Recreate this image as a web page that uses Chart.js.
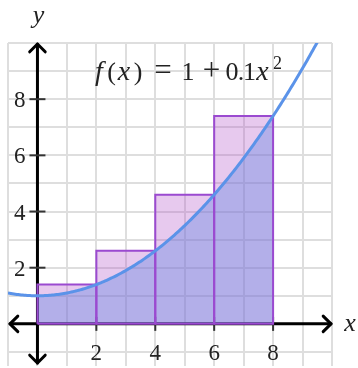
<!DOCTYPE html>
<html>
<head>
<meta charset="utf-8">
<script src="https://cdn.jsdelivr.net/npm/chart.js@4/dist/chart.umd.min.js"></script>
<style>
  html, body { margin: 0; padding: 0; background: #ffffff; }
  #wrap { width: 358px; height: 368px; }
</style>
</head>
<body>
<div id="wrap"><canvas id="c" width="358" height="368"></canvas></div>
<script>
// f(x) = 1 + 0.1 x^2, with a right-endpoint Riemann sum on [0, 8]
const coefConst = 1;
const coefSquare = 0.1;
const leftEdges = [0, 2, 4, 6];
const rightEdges = [2, 4, 6, 8];
const rectHeights = [1.4, 2.6, 4.6, 7.4];
const xTickValues = [2, 4, 6, 8];
const xTickLabels = ['2', '4', '6', '8'];
const yTickValues = [2, 4, 6, 8];
const yTickLabels = ['2', '4', '6', '8'];
const xRange = [-1, 10];
const yRange = [-1.5, 10];
const areaFrom = 0, areaTo = 8;

const f = (x) => coefConst + coefSquare * x * x;

// curve samples of the stated function
const curvePts = [];
for (let i = 0; i <= 220; i++) {
  const x = xRange[0] + i * (xRange[1] - xRange[0]) / 220;
  curvePts.push({ x, y: f(x) });
}
const areaPts = [];
for (let i = 0; i <= 160; i++) {
  const x = areaFrom + i * (areaTo - areaFrom) / 160;
  areaPts.push({ x, y: f(x) });
}

const rectFill = 'rgba(175, 75, 200, 0.30)';
const rectEdge = '#9b4ad0';
const areaFill = 'rgba(90, 130, 225, 0.36)';
const curveColor = '#5b93e9';

const datasets = [];
// curve on top
datasets.push({
  data: curvePts, borderColor: curveColor, borderWidth: 3,
  pointRadius: 0, fill: false, tension: 0, order: 0
});
// rectangle outlines
leftEdges.forEach((a, i) => {
  const b = rightEdges[i], h = rectHeights[i];
  datasets.push({
    data: [{x: a, y: 0}, {x: a, y: h}, {x: b, y: h}, {x: b, y: 0}, {x: a, y: 0}],
    borderColor: rectEdge, borderWidth: 2, pointRadius: 0, fill: false, order: 1
  });
});
// area under the curve
datasets.push({
  data: areaPts, borderWidth: 0, borderColor: 'rgba(0,0,0,0)',
  backgroundColor: areaFill, pointRadius: 0, fill: 'origin', order: 2
});
// rectangle fills
leftEdges.forEach((a, i) => {
  const b = rightEdges[i], h = rectHeights[i];
  datasets.push({
    data: [{x: a, y: 0}, {x: a, y: h}, {x: b, y: h}, {x: b, y: 0}],
    borderWidth: 0, borderColor: 'rgba(0,0,0,0)',
    backgroundColor: rectFill, pointRadius: 0, fill: 'origin', order: 3
  });
});

const gridColor = (ctx) => Number.isInteger(ctx.tick.value) ? '#dedede' : 'rgba(0,0,0,0)';

function arrowHead(ctx, tx, ty, dx, dy, len, spread) {
  const ang = Math.atan2(dy, dx);
  ctx.beginPath();
  ctx.moveTo(tx - len * Math.cos(ang - spread), ty - len * Math.sin(ang - spread));
  ctx.lineTo(tx, ty);
  ctx.lineTo(tx - len * Math.cos(ang + spread), ty - len * Math.sin(ang + spread));
  ctx.stroke();
}

const axesPlugin = {
  id: 'axesWithArrows',
  beforeDatasetsDraw(chart) {
    const { ctx, chartArea: a, scales: { x, y } } = chart;
    const x0 = x.getPixelForValue(0), y0 = y.getPixelForValue(0);
    ctx.save();
    ctx.strokeStyle = '#000';
    ctx.lineWidth = 3;
    ctx.lineCap = 'round';
    ctx.lineJoin = 'round';
    const xl = a.left + 2, xr = a.right - 1;
    const yt = a.top + 1, yb = a.bottom - 3;
    ctx.beginPath(); ctx.moveTo(xl, y0); ctx.lineTo(xr, y0); ctx.stroke();
    ctx.beginPath(); ctx.moveTo(x0, yt); ctx.lineTo(x0, yb); ctx.stroke();
    arrowHead(ctx, xl, y0, -1, 0, 11, 0.78);
    arrowHead(ctx, xr, y0, 1, 0, 11, 0.78);
    arrowHead(ctx, x0, yt, 0, -1, 11, 0.78);
    arrowHead(ctx, x0, yb, 0, 1, 11, 0.78);
    // tick marks
    ctx.strokeStyle = '#333';
    ctx.lineWidth = 2;
    ctx.lineCap = 'butt';
    xTickValues.forEach(v => {
      const px = x.getPixelForValue(v);
      ctx.beginPath(); ctx.moveTo(px, y0 - 7); ctx.lineTo(px, y0 + 7); ctx.stroke();
    });
    yTickValues.forEach(v => {
      const py = y.getPixelForValue(v);
      ctx.beginPath(); ctx.moveTo(x0 - 8, py); ctx.lineTo(x0 + 8, py); ctx.stroke();
    });
    ctx.restore();
  },
  afterDatasetsDraw(chart) {
    const { ctx, scales: { x, y } } = chart;
    const x0 = x.getPixelForValue(0), y0 = y.getPixelForValue(0);
    ctx.save();
    ctx.fillStyle = '#222';
    ctx.font = '23px "Liberation Serif", serif';
    ctx.textAlign = 'center';
    ctx.textBaseline = 'alphabetic';
    xTickValues.forEach((v, i) => {
      ctx.fillText(xTickLabels[i], x.getPixelForValue(v), y0 + 36);
    });
    ctx.textAlign = 'right';
    yTickValues.forEach((v, i) => {
      ctx.fillText(yTickLabels[i], x0 - 12, y.getPixelForValue(v) + 8);
    });
    // axis names
    ctx.font = 'italic 26px "Liberation Serif", serif';
    ctx.textAlign = 'center';
    ctx.fillText('y', x0 + 1, 23);
    ctx.fillText('x', 350, y0 + 7);

    // formula label, set glyph by glyph
    const base = 80;
    const it = 'italic 28px "Liberation Serif", serif';
    const rm = '26px "Liberation Serif", serif';
    const op = '31px "Liberation Serif", serif';
    const parts = [
      ['f', it, 99, base], ['(', rm, 111.5, base], ['x', it, 124, base],
      [')', rm, 138, base], ['=', op, 163, base], ['1', rm, 188, base],
      ['+', op, 211.5, base], ['0', rm, 232, base], ['.', rm, 241, base],
      ['1', rm, 249.5, base], ['x', it, 262.5, base],
      ['2', '18px "Liberation Serif", serif', 277.5, base - 11]
    ];
    parts.forEach(([t, font, cx, by]) => {
      ctx.font = font;
      ctx.fillText(t, cx, by);
    });
    ctx.restore();
  }
};

new Chart(document.getElementById('c'), {
  type: 'line',
  data: { datasets },
  options: {
    responsive: false,
    animation: false,
    devicePixelRatio: 1,
    layout: { padding: { left: 8, right: 26, top: 43, bottom: 2 } },
    plugins: { legend: { display: false }, tooltip: { enabled: false }, title: { display: false } },
    elements: { line: { tension: 0 } },
    scales: {
      x: {
        type: 'linear', min: xRange[0], max: xRange[1],
        ticks: { display: false, stepSize: 1 },
        grid: { color: gridColor, lineWidth: 2, drawTicks: false },
        border: { display: false },
        afterFit: (s) => { s.height = 0; }
      },
      y: {
        type: 'linear', min: yRange[0], max: yRange[1],
        ticks: { display: false, stepSize: 1 },
        grid: { color: gridColor, lineWidth: 2, drawTicks: false },
        border: { display: false },
        afterFit: (s) => { s.width = 0; }
      }
    }
  },
  plugins: [axesPlugin]
});
</script>
</body>
</html>
